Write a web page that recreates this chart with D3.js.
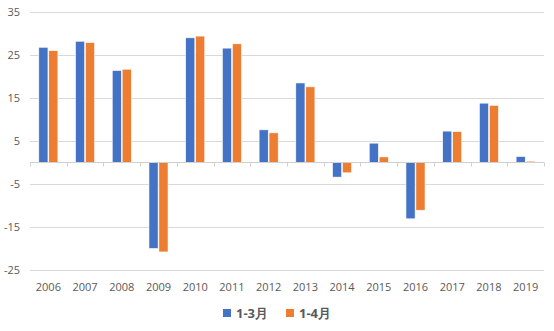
<!DOCTYPE html>
<html>
<head>
<meta charset="utf-8">
<script src="https://d3js.org/d3.v7.min.js"></script>
<style>
    body { margin: 0; background: #fff; }
    svg text { font-family: "Open Sans", "Noto Sans", sans-serif; fill: #595959; }
    .grid line { stroke: #d9d9d9; stroke-width: 1; }
</style>
</head>
<body>
<div id="chart"></div>
<script>
// data
var years = ["2006", "2007", "2008", "2009", "2010", "2011", "2012", "2013", "2014", "2015", "2016", "2017", "2018", "2019"];
var seriesNames = ["1-3月", "1-4月"];
var q1Values = [26.8, 28.2, 21.4, -20.0, 29.0, 26.6, 7.6, 18.5, -3.4, 4.5, -13.1, 7.3, 13.8, 1.4];
var q1to4Values = [26.0, 27.9, 21.7, -20.8, 29.4, 27.6, 6.9, 17.6, -2.4, 1.3, -11.1, 7.2, 13.3, 0.3];
var yTicks = [35, 25, 15, 5, -5, -15, -25];
var colors = ["#4472c4", "#ed7d31"];

var width = 554, height = 331;
var plotLeft = 30, plotRight = 544, plotTop = 12, plotBottom = 270;

var svg = d3.select("#chart").append("svg")
    .attr("width", width)
    .attr("height", height);

var y = d3.scaleLinear().domain([-25, 35]).range([plotBottom, plotTop]);

var x0 = d3.scaleBand().domain(years).range([plotLeft, plotRight])
    .paddingInner(0.48).paddingOuter(0.24);
var x1 = d3.scaleBand().domain(seriesNames).range([0, x0.bandwidth()])
    .paddingInner(0.08);

// gridlines
svg.append("g").attr("class", "grid")
    .selectAll("line").data(yTicks).enter()
    .append("line")
    .attr("x1", plotLeft).attr("x2", plotRight)
    .attr("y1", function(d) { return Math.round(y(d)) + 0.5; })
    .attr("y2", function(d) { return Math.round(y(d)) + 0.5; });

// y labels
svg.append("g").selectAll("text").data(yTicks).enter()
    .append("text")
    .attr("x", 20)
    .attr("y", function(d) { return y(d); })
    .attr("dy", "0.35em")
    .attr("text-anchor", "end")
    .style("font-size", "11px")
    .text(function(d) { return d; });

// bars
var rows = years.map(function(yr, i) {
    return { year: yr, values: [q1Values[i], q1to4Values[i]] };
});

var groups = svg.append("g").selectAll("g").data(rows).enter()
    .append("g")
    .attr("transform", function(d) { return "translate(" + x0(d.year) + ",0)"; });

groups.selectAll("rect")
    .data(function(d) { return d.values.map(function(v, k) { return { key: seriesNames[k], value: v, k: k }; }); })
    .enter().append("rect")
    .attr("x", function(d) { return x1(d.key); })
    .attr("width", x1.bandwidth())
    .attr("y", function(d) { return y(Math.max(0, d.value)); })
    .attr("height", function(d) { return Math.abs(y(d.value) - y(0)); })
    .attr("fill", function(d) { return colors[d.k]; })
    .attr("stroke", "#fff")
    .attr("stroke-width", 0.6);

// zero axis with category ticks
var zeroY = Math.round(y(0)) + 0.5;
svg.append("line")
    .attr("x1", plotLeft).attr("x2", plotRight)
    .attr("y1", zeroY).attr("y2", zeroY)
    .attr("stroke", "#d0d0d0");

var bounds = d3.range(years.length + 1).map(function(i) { return plotLeft + i * x0.step(); });
svg.append("g").selectAll("line").data(bounds).enter()
    .append("line")
    .attr("x1", function(d) { return Math.round(d) + 0.5; })
    .attr("x2", function(d) { return Math.round(d) + 0.5; })
    .attr("y1", zeroY).attr("y2", zeroY + 4)
    .attr("stroke", "#d0d0d0");

// x labels
svg.append("g").selectAll("text").data(years).enter()
    .append("text")
    .attr("x", function(d) { return x0(d) + x0.bandwidth() / 2; })
    .attr("y", 287)
    .attr("dy", "0.35em")
    .attr("text-anchor", "middle")
    .style("font-size", "11px")
    .text(function(d) { return d; });

// legend
var legendX = [223, 286];
var legend = svg.append("g").selectAll("g").data(seriesNames).enter()
    .append("g")
    .attr("transform", function(d, i) { return "translate(" + legendX[i] + ",309)"; });
legend.append("rect")
    .attr("width", 8).attr("height", 8)
    .attr("fill", function(d, i) { return colors[i]; });
legend.append("text")
    .attr("x", 13).attr("y", 4)
    .attr("dy", "0.38em")
    .style("font-size", "13px")
    .style("font-weight", "bold")
    .text(function(d) { return d; });
</script>
</body>
</html>
